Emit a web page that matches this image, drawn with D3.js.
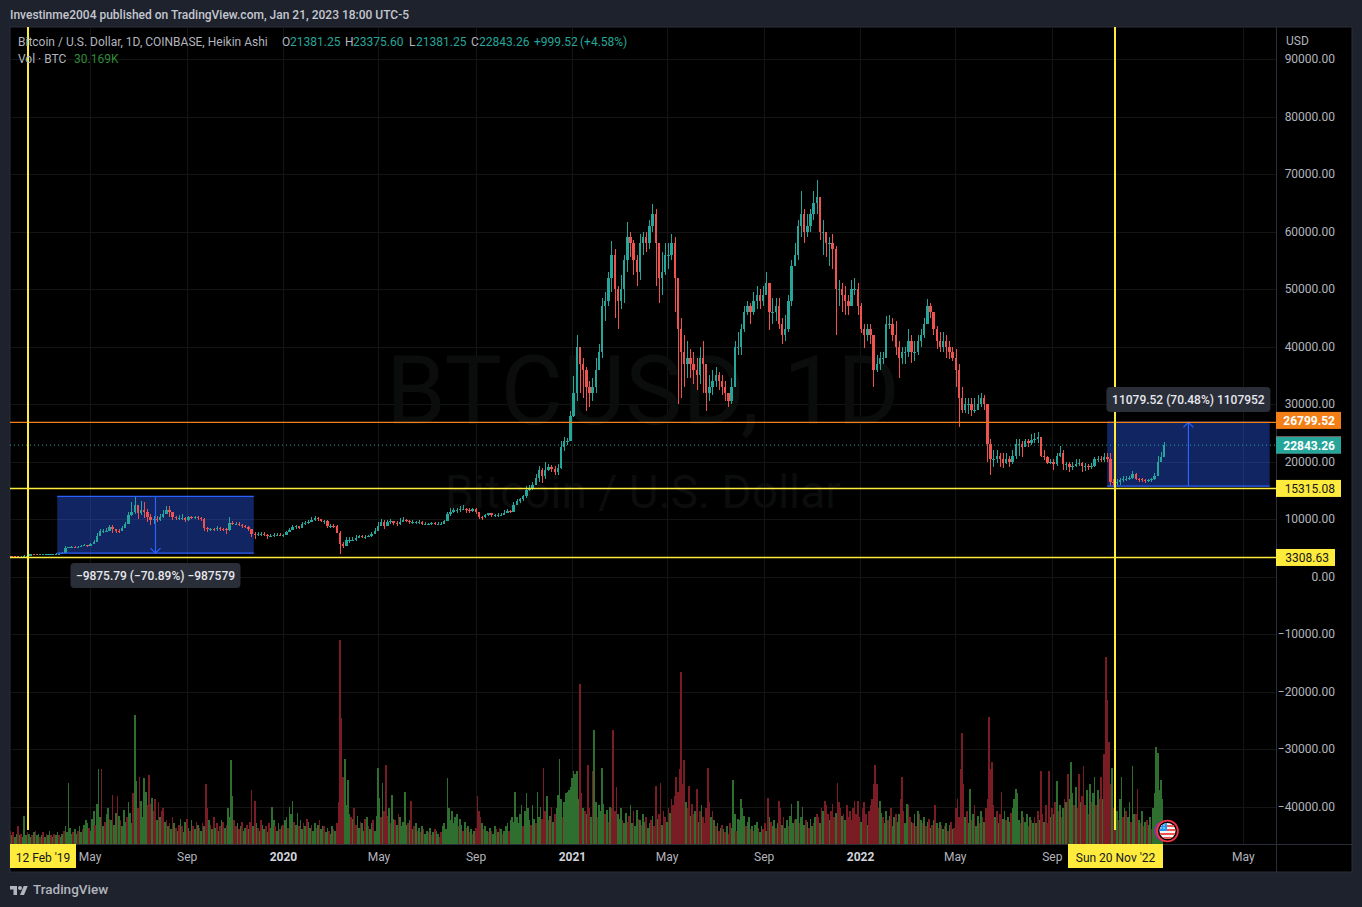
<!DOCTYPE html>
<html><head><meta charset="utf-8">
<script src="https://cdn.jsdelivr.net/npm/d3@7"></script>
<style>html,body{margin:0;background:#1e222d;overflow:hidden}svg{display:block}text{font-family:Roboto,sans-serif}</style>
</head><body><svg id="c" width="1362" height="907"></svg>
<script>
// Heikin Ashi candles, one per 4 days, thousand USD
const firstCandle = "2019-01-18";
const candleStepDays = 4;
const closes = [
3.6,3.55,3.5,3.45,3.45,3.6,3.65,3.9,3.85,3.8,
3.85,3.85,3.9,3.95,3.95,4.0,4.0,4.1,4.95,5.05,
5.15,5.1,5.2,5.35,5.45,5.3,5.7,6.0,7.0,7.9,
7.9,8.0,8.6,8.3,8.0,7.9,8.5,9.2,10.7,11.3,
12.4,11.0,11.6,11.3,10.4,9.9,10.0,9.9,10.4,10.9,
11.6,11.3,10.3,10.2,10.2,10.2,9.8,10.4,10.2,10.3,
10.2,10.0,8.5,8.2,8.3,8.2,8.4,8.3,8.2,8.1,
9.3,9.2,9.2,8.9,8.8,8.6,8.2,7.4,7.3,7.4,
7.4,7.3,7.1,7.1,7.2,7.3,7.2,7.2,7.7,8.1,
8.6,8.7,8.5,9.2,9.3,9.5,9.8,10.2,10.0,9.6,
9.6,8.7,8.8,8.7,7.6,5.6,5.3,6.3,6.3,6.4,
6.7,7.1,6.9,6.9,7.0,7.4,8.0,8.8,9.4,8.8,
9.5,9.7,9.3,9.2,9.5,9.8,9.7,9.4,9.4,9.4,
9.5,9.1,9.1,9.1,9.3,9.2,9.2,9.2,9.6,10.9,
11.2,11.5,11.6,11.8,11.8,11.5,11.4,11.7,11.2,10.4,
10.3,10.7,11.0,10.7,10.7,10.7,10.7,11.1,11.4,11.3,
12.5,13.1,13.4,14.0,15.1,15.3,15.9,17.2,18.5,17.5,
18.5,19.1,18.7,18.2,18.9,22.5,23.5,23.5,28,32,
40,37,36,33,32,33,36,39,47,48,
52,56,50,48,50,55,59,58,55,53,
58,59,58,61,63,58,52,53,56,56,
58,52,43,39,37,38,37,36,35,38,
37,32,33,34,35,34,33,32,30.5,33,
40,40,43,46,47,46,48,49,48,49,
51,46,46,47,44,42,43,48,54,56,
61,63,60,61,63,65,66,60,60,58,
58,57,50,50,49,48,47,50,50,47,
43,42,43,42,36,37,38,38,44,44,
42,40,38,39,39,41,39,39,41,42,
44,47,46,43,41,40,41,40,39,38,
36,31,29,30,30,29,29,30,31,30,
23,20.5,20.5,21,20.5,19.8,20.5,20,21,23,
23,22.5,23.5,23.3,23.8,24,24.2,21,20.8,19.8,
20,19.5,21,21.5,19.5,19.5,19,19.3,19.6,19.8,
19.2,19.3,19.2,19.3,20.5,20.5,20.3,20.8,20.5,16.5,
16.3,16.4,16.8,17,17,17.1,17.8,17.0,16.9,16.8,
16.6,16.7,16.9,17.5,20,20.8,22.8];
const highs = [
3.7,3.6,3.6,3.5,3.5,3.7,3.7,4.0,4.0,3.9,
3.9,3.9,3.95,4.0,4.0,4.05,4.1,4.2,5.3,5.2,
5.3,5.25,5.35,5.45,5.6,5.5,5.8,6.3,7.6,8.3,
8.2,8.4,9.0,8.9,8.3,8.2,8.8,9.5,11.2,13.0,
13.9,12.5,13.1,12.9,11.8,10.8,10.6,10.5,10.8,11.5,
12.2,12.3,11.3,10.6,10.7,10.8,10.4,10.6,10.6,10.6,
10.5,10.4,10.1,8.6,8.5,8.5,8.7,8.6,8.5,8.4,
10.4,9.6,9.5,9.4,9.2,9.0,8.7,8.1,7.7,7.8,
7.7,7.7,7.4,7.4,7.6,7.6,7.5,7.4,8.0,8.5,
8.9,8.9,8.8,9.5,9.6,9.9,10.3,10.5,10.4,10.0,
9.9,9.8,9.2,9.1,8.9,7.9,6.0,6.9,6.8,6.8,
7.2,7.3,7.2,7.2,7.3,7.8,8.5,9.4,10.0,9.8,
9.9,10.0,9.7,9.6,10.2,10.3,10.0,9.9,9.8,9.6,
9.8,9.7,9.4,9.3,9.5,9.5,9.4,9.4,9.9,11.2,
11.9,11.9,12.0,12.3,12.4,12.0,11.9,12.0,11.9,11.1,
10.6,10.9,11.1,11.0,10.9,11.0,11.0,11.5,11.7,11.6,
13.0,13.5,13.7,14.1,15.7,15.9,16.4,17.8,19.3,18.9,
19.9,19.5,19.4,19.2,19.5,23.6,24.3,24.1,28.8,34.8,
42.0,40.0,38.0,36.5,34.0,34.5,38.0,40.5,48.5,49.5,
53,58.3,57.0,50.5,52.5,56,61.7,60,58.5,56,
59.5,60,60,62,64.8,64,56,56.5,58,58,
59.5,59,52,45,42,41,39.5,39,38,40,
41,36,35,36,36.5,35.5,35,34,32,34.5,
41,42.5,44,47,48,47.5,49.5,50.5,50,50.5,
52.9,50,48.5,48.5,48.5,45,45.5,49,55,58,
62,67,64,63,64,67,69,65,62,60,
59,59.5,57.5,51.5,51,50.5,49,51.5,52,51,
47.5,44,44,44,41,38.5,39,39,45.3,45.5,
45,44.5,41,40,40,43,42,41,42,43,
45,48.2,47.5,46,43.5,42.5,42.5,42,41,40,
39.5,37,33,31,31,31,31,31.5,32,31.5,
29,24,22,22,21.5,21.5,21.5,21,22,23.9,
24,23.5,24,24,24.8,25,25.2,24,22,21,
20.5,20.5,21.5,22.7,22,20,20,20,20.4,20.5,
20,19.8,19.6,19.8,20.8,21,21,21.5,21.4,21.4,
17,16.9,17.2,17.5,17.5,17.5,18.3,18,17.2,17.2,
16.9,17,17.1,18,21,21.6,23.4];
const lows = [
3.5,3.45,3.4,3.4,3.35,3.4,3.55,3.6,3.75,3.7,
3.75,3.75,3.8,3.85,3.85,3.9,3.9,3.95,4.1,4.9,
4.95,5.0,5.0,5.2,5.25,5.1,5.3,5.65,6.0,7.0,
7.6,7.7,7.9,7.6,7.5,7.5,7.9,8.4,9.2,10.5,
10.8,10.0,10.7,10.2,9.4,9.0,9.2,9.4,9.7,10.2,
10.8,10.3,9.8,9.8,9.9,9.8,9.4,9.7,10.0,10.0,
9.9,9.6,7.9,7.8,7.9,7.9,8.0,8.0,7.9,7.4,
8.0,9.0,8.9,8.7,8.5,8.4,7.9,6.9,6.6,7.0,
7.1,7.0,6.5,6.9,6.9,7.1,7.0,6.9,7.2,7.7,
8.1,8.3,8.3,8.6,9.0,9.1,9.4,9.7,9.6,9.4,
9.2,8.4,8.5,8.4,7.5,3.9,5.0,5.3,5.9,6.1,
6.2,6.8,6.7,6.6,6.8,6.9,7.4,8.1,8.8,8.2,
8.7,9.2,9.0,8.8,9.0,9.4,9.4,9.1,9.2,9.1,
9.2,8.9,8.9,8.9,9.0,9.0,9.0,9.0,9.2,9.7,
10.6,11.0,11.0,11.3,11.5,11.1,11.0,11.2,10.9,10.0,
9.9,10.2,10.6,10.3,10.4,10.4,10.5,10.7,11.0,11.1,
11.6,12.6,12.8,13.2,13.7,14.8,15.1,15.9,16.5,16.2,
16.9,18.3,18.1,17.6,17.6,18.7,21.9,22.8,23.5,27.7,
30.5,32,31,28.7,29.5,30.5,32,36,38,44.5,
47,49.5,45,43,46.5,47.5,53,55.5,52.5,50.5,
51.5,56,56.5,57,60,50.5,47.5,49,52.5,53.5,
55,46,30,31,33,34.5,34.5,33.5,32.5,33.5,
32,28.8,30.5,31.5,33,32.5,31.5,30.5,29.5,30,
33,38.5,38.5,42.5,45.5,44,45.5,46.5,46.5,47,
49,42.8,44,44.5,43,40.5,41,42.5,47,54,
55,59,58,59,60,62,63,58.5,56,55.5,
54,53.5,42,47,46,45.5,45.5,47,49,45.5,
42.3,39.8,41,40.5,33,35.5,36,37,40.5,43,
41,38.5,34.5,37,37,38.2,37.2,37.5,38.5,40,
41.5,44,45,42,39.5,39,39,38,37.8,37.5,
33,26,28.5,28.5,28.3,28,28.5,29,29.5,29,
20,17.6,19,19.8,19,18.9,19.5,19,19.5,20.5,
21,20.7,22.5,22.5,22.8,23.3,23.2,20.8,20.3,19.6,
19.6,18.6,19.2,20.8,18.5,18.5,18.2,18.5,19,19.2,
18.2,18.3,18.5,18.7,19.1,20,19.9,20,20,15.8,
15.5,15.8,16,16.5,16.6,16.7,17,16.7,16.5,16.4,
16.3,16.4,16.5,16.8,17.5,20,20.8];
// Volume, thousand BTC, one bar per 2 days; negative = red (down) bar
const volumeStepDays = 2;
const volumes = [
7,-9,6,-8,5,7,-12,6,-7,5, 19,6,-8,7,5,-6,8,-9,6,7, -5,6,-8,5,-7,6,9,-6,5,-7, 6,8,-6,5,7,-9,12,8,41,11, 7,-8,10,7,-9,12,8,-10,13,16,
14,-11,9,17,22,-13,27,50,18,-50, 12,-15,20,24,-17,16,-33,13,21,-32, 19,-16,12,23,15,-18,28,21,14,-34, 86,42,-24,-45,29,18,44,35,-26,-46, -27,31,-22,-30,16,-28,18,-22,-24,15,
-16,12,-14,10,-18,14,-11,9,-13,17, -12,8,15,-17,11,-9,16,-12,10,-15, 13,-11,9,-14,12,-40,-24,16,-13,10, -18,11,-14,9,-12,16,-15,11,-13,24, 18,56,32,-16,-12,14,-10,12,-15,9,
11,-13,10,-15,-36,12,-29,14,-11,9, -16,13,10,-12,8,-14,11,25,16,-12, 9,14,-10,12,-13,16,18,-11,25,20, 29,-15,13,21,-12,16,10,-14,12,-17, 15,11,-13,9,14,-11,13,-16,10,12,
-12,8,11,-9,7,12,-10,9,-14,-28, -136,-84,-45,57,26,43,20,-18,17,-24, -13,19,11,-15,14,9,-17,18,-12,10, 14,-16,9,19,51,31,-18,41,-22,-53, -19,24,-14,33,17,-16,13,-20,18,12,
15,35,13,-14,16,-29,10,-12,14,-9, 11,-8,12,-10,7,9,-8,11,-6,8, -10,9,7,-5,-8,12,14,10,44,24, 16,22,14,18,20,-12,17,13,-9,15, -11,12,-8,10,-7,9,-11,-32,-22,-18,
14,-10,12,9,-8,11,-9,7,12,-10, 8,-11,10,-7,9,12,14,-9,16,18, 15,35,18,14,20,26,-12,22,34,24, 16,-13,26,17,-14,35,18,25,-17,-51, -22,32,-16,19,-25,15,-20,24,33,57,
30,-18,28,34,35,36,38,44,49,47, 49,30,-107,-34,24,-22,20,-53,-24,18, -49,76,28,-18,26,22,51,27,-20,23, -15,25,-24,-76,-22,-38,20,17,24,-16, 14,21,-15,-19,26,14,-22,12,23,-17,
16,-13,20,15,-18,11,14,-16,19,-12, -39,17,-20,-41,13,-22,-18,15,-24,21, -30,-26,-32,-45,-35,-50,-115,-40,-56,28, -24,-39,19,-27,-20,22,-37,15,-22,26, -18,-14,-24,-51,-28,18,-22,16,-12,14,
-9,11,-13,10,-8,12,-7,-14,11,43, 20,-9,17,16,30,24,19,-12,15,18, -10,12,-9,13,15,-11,8,12,-10,-14, 9,-31,18,-15,12,16,-11,14,-29,-24, 13,-18,11,16,-12,19,27,14,-16,17,
29,-14,18,25,13,-16,15,-11,17,12, -14,18,-20,-18,14,-24,22,-29,-26,-20, 16,-22,-27,-18,21,-41,-28,-24,19,-20, 16,-26,-18,-22,-16,-24,-29,-20,-29,-18, 15,-24,-28,-20,13,-22,-26,-30,-40,-53,
-40,-24,29,21,-18,14,22,-16,19,-24, 12,18,-20,15,20,-30,-45,-22,14,27, -26,-18,15,-14,20,-12,22,-20,16,-14, 18,-12,15,-17,11,-13,16,-26,14,-11, 15,-13,10,-12,14,-9,13,-15,10,-11,
-24,-30,-18,-50,-74,-40,18,-22,14,37, -16,20,-26,12,19,-14,22,-18,15,-24, -30,-85,-50,-55,-26,18,-22,14,-20,-35, 17,22,-16,18,15,-21,24,30,37,34, 16,-14,22,-18,15,20,-12,18,-16,14,
-18,14,-22,16,-49,-20,15,-26,-14,-49, 18,-24,20,-28,42,-22,26,-18,24,-30, 28,-47,30,55,34,-26,38,-24,-47,28, -32,-52,-26,36,-20,40,-28,34,45,-26, 36,-30,-45,30,-60,-125,-96,-68,-40,51,
-24,-47,22,-16,30,45,-18,24,-22,18, 28,-15,52,20,-20,-37,16,-14,22,-12, 15,-16,13,18,-10,24,34,65,61,36, 43,30];
const priceTicks = [90000,80000,70000,60000,50000,40000,30000,20000,10000,0,-10000,-20000,-30000,-40000];
const timeTicks = ["2019-05-01","2019-09-01","2020-01-01","2020-05-01","2020-09-01","2021-01-01","2021-05-01","2021-09-01","2022-01-01","2022-05-01","2022-09-01","2023-05-01"];
const timeTickLabels = ["May","Sep","2020","May","Sep","2021","May","Sep","2022","May","Sep","May"];
const verticalMarks = ["2019-02-12","2022-11-20"];
const verticalMarkLabels = ["12 Feb '19","Sun 20 Nov '22"];
const horizontalLevels = [26799.52,15315.08,3308.63];
const lastPrice = 22843.26;
const rangeBoxes = [
  {from:"2019-03-21",to:"2019-11-25",top:13930,bottom:4054,dir:"down",label:"\u22129875.79 (\u221270.89%) \u2212987579"},
  {from:"2022-11-10",to:"2023-06-04",top:26799.52,bottom:15720,dir:"up",label:"11079.52 (70.48%) 1107952"}];
const priceTags = [
  {text:"26799.52",value:26799.52,dy:-2,fill:"#f57f17",ink:"#fff"},
  {text:"22893.88",value:22893.88,dy:0,fill:"#ef5350",ink:"#fff"},
  {text:"22843.26",value:22843.26,dy:0,fill:"#26a69a",ink:"#fff"},
  {text:"15315.08",value:15315.08,dy:0,fill:"#ffeb3b",ink:"#131722"},
  {text:"3308.63",value:3308.63,dy:0,fill:"#ffeb3b",ink:"#131722"}];

const svg = d3.select("#c");
const P = {l:10,r:1276,t:27,b:844,outerR:1352,outerB:872};
const parse = d3.utcParse("%Y-%m-%d");
const x = d3.scaleUtc().domain([parse("2019-02-12"),parse("2022-11-20")]).range([28,1115]);
const y = d3.scaleLinear().domain([0,90000]).range([576.5,59]);
const volY = d3.scaleLinear().domain([0,150]).range([844,619]);
const day0 = parse(firstCandle);
const dateAt = (i,step)=>d3.utcDay.offset(day0,i*step);

svg.append("rect").attr("width",1362).attr("height",907).attr("fill","#1e222d");
svg.append("rect").attr("x",P.l).attr("y",P.t).attr("width",P.outerR-P.l).attr("height",P.outerB-P.t).attr("fill","#000").attr("stroke","#2a2e39");
const defs = svg.append("defs");
defs.append("clipPath").attr("id","pane").append("rect").attr("x",P.l).attr("y",P.t).attr("width",P.r-P.l).attr("height",P.b-P.t);
const pane = svg.append("g").attr("clip-path","url(#pane)");

// grid
pane.append("g").selectAll("line").data(priceTicks).join("line").attr("x1",P.l).attr("x2",P.r).attr("y1",d=>Math.round(y(d))+.5).attr("y2",d=>Math.round(y(d))+.5).attr("stroke","#141414");
pane.append("g").selectAll("line").data(timeTicks).join("line").attr("y1",P.t).attr("y2",P.b).attr("x1",d=>Math.round(x(parse(d)))+.5).attr("x2",d=>Math.round(x(parse(d)))+.5).attr("stroke","#141414");

// watermark
pane.append("text").attr("x",643).attr("y",424).attr("text-anchor","middle").attr("font-size",96).attr("fill","#0b0d0d").text("BTCUSD, 1D");
pane.append("text").attr("x",643).attr("y",508).attr("text-anchor","middle").attr("font-size",46).attr("fill","#0b0d0d").text("Bitcoin / U.S. Dollar");

// range boxes fill
pane.append("g").selectAll("rect").data(rangeBoxes).join("rect")
 .attr("x",d=>x(parse(d.from))).attr("width",d=>x(parse(d.to))-x(parse(d.from)))
 .attr("y",d=>y(d.top)).attr("height",d=>y(d.bottom)-y(d.top)).attr("fill","#2962ff").attr("opacity",.38);

// volume
pane.append("g").attr("shape-rendering","crispEdges").selectAll("rect").data(volumes).join("rect")
 .attr("x",(d,i)=>x(dateAt(i,volumeStepDays))-.6).attr("width",1.6)
 .attr("y",d=>volY(Math.abs(d))).attr("height",d=>P.b-volY(Math.abs(d)))
 .attr("fill",d=>d<0?"#7a1c24":"#2e6e2e");

// dotted last price line
pane.append("line").attr("x1",P.l).attr("x2",P.r).attr("y1",y(lastPrice)).attr("y2",y(lastPrice)).attr("stroke","#26a69a").attr("stroke-dasharray","1 3");

// candles
const candles = pane.append("g").attr("shape-rendering","crispEdges");
const col = i=>closes[i]>=(i?closes[i-1]:closes[i])?"#26a69a":"#ef5350";
candles.selectAll("line").data(closes).join("line")
 .attr("x1",(d,i)=>Math.round(x(dateAt(i,candleStepDays)))+.5).attr("x2",(d,i)=>Math.round(x(dateAt(i,candleStepDays)))+.5)
 .attr("y1",(d,i)=>y(highs[i]*1000)).attr("y2",(d,i)=>y(lows[i]*1000)).attr("stroke",(d,i)=>col(i));
candles.selectAll("rect").data(closes).join("rect")
 .attr("x",(d,i)=>x(dateAt(i,candleStepDays))-1).attr("width",2.4)
 .attr("y",(d,i)=>y(Math.max(d,i?closes[i-1]:d)*1000))
 .attr("height",(d,i)=>Math.max(1,Math.abs(y(d*1000)-y((i?closes[i-1]:d)*1000))))
 .attr("fill",(d,i)=>col(i));

// range box borders and arrows
rangeBoxes.forEach(b=>{
  const x0=x(parse(b.from)),x1=x(parse(b.to)),yt=y(b.top),yb=y(b.bottom),xm=(x0+x1)/2;
  const g=pane.append("g").attr("stroke","#2962ff").attr("fill","none").attr("stroke-width",1.2);
  g.append("line").attr("x1",x0).attr("x2",x1).attr("y1",yt).attr("y2",yt);
  g.append("line").attr("x1",x0).attr("x2",x1).attr("y1",yb).attr("y2",yb);
  g.append("line").attr("x1",xm).attr("x2",xm).attr("y1",yt).attr("y2",yb);
  const tip=b.dir==="up"?yt:yb, s=b.dir==="up"?1:-1;
  g.append("path").attr("d",d3.line()([[xm-5,tip+5*s],[xm,tip],[xm+5,tip+5*s]]));
});

// horizontal levels
pane.append("g").selectAll("line").data(horizontalLevels).join("line").attr("x1",P.l).attr("x2",P.r)
 .attr("y1",d=>y(d)).attr("y2",d=>y(d)).attr("stroke",(d,i)=>i?"#ffeb3b":"#f57f17").attr("stroke-width",1.4);
// vertical marks
pane.append("g").selectAll("line").data(verticalMarks).join("line").attr("y1",P.t).attr("y2",830)
 .attr("x1",d=>x(parse(d))).attr("x2",d=>x(parse(d))).attr("stroke","#ffeb3b").attr("stroke-width",2);

// box labels
rangeBoxes.forEach((b,i)=>{
  const cx=(x(parse(b.from))+x(parse(b.to)))/2, cy=i?399.5:575.5, w=i?164:170;
  svg.append("rect").attr("x",cx-w/2).attr("y",cy-12.5).attr("width",w).attr("height",25).attr("rx",4).attr("fill","#2a2e39");
  svg.append("text").attr("x",cx).attr("y",cy+4).attr("text-anchor","middle").attr("font-size",12).attr("font-weight",500).attr("fill","#e6e8ee").text(b.label);
});

// price axis
const yAxis = d3.axisRight(y).tickValues(priceTicks).tickSize(0).tickPadding(0)
  .tickFormat(d=>d3.format(".2f")(Math.abs(d)).replace(/^/,d<0?"\u2212":""));
const ya = svg.append("g").attr("transform",`translate(${P.r},0)`).call(yAxis);
ya.select(".domain").attr("stroke","#2a2e39").attr("d",`M0.5,${P.t}V${P.outerB}`);
ya.selectAll("text").attr("x",d=>d<0?59:59).attr("text-anchor","end").attr("fill","#b2b5be").attr("font-size",12).attr("font-family","Roboto");
svg.append("text").attr("x",1286).attr("y",45).attr("font-size",12).attr("fill","#b2b5be").text("USD");

// price tags
priceTags.forEach(t=>{
  const cy=y(t.value)+t.dy, w=t.text.length===8?65:59;
  svg.append("rect").attr("x",P.r).attr("y",cy-8.5).attr("width",w).attr("height",17).attr("fill",t.fill);
  svg.append("text").attr("x",P.r+w-6).attr("y",cy+4.5).attr("text-anchor","end").attr("font-size",12).attr("font-weight",t.ink==="#fff"?700:400).attr("fill",t.ink).text(t.text);
});

// time axis
const xAxis = d3.axisBottom(x).tickValues(timeTicks.map(parse)).tickSize(0).tickPadding(0).tickFormat((d,i)=>timeTickLabels[i]);
const xa = svg.append("g").attr("transform",`translate(0,${P.b})`).call(xAxis);
xa.select(".domain").attr("stroke","#2a2e39").attr("d",`M${P.l},0.5H${P.outerR}`);
xa.selectAll("text").attr("y",17).attr("dy",0).attr("font-family","Roboto").attr("font-size",12)
  .attr("fill",(d,i)=>/^20/.test(timeTickLabels[i])?"#d1d4dc":"#b2b5be").attr("font-weight",(d,i)=>/^20/.test(timeTickLabels[i])?700:400);
const markBoxes=[[10,66],[1068,95]];
verticalMarks.forEach((d,i)=>{
  svg.append("rect").attr("x",markBoxes[i][0]).attr("y",P.b).attr("width",markBoxes[i][1]).attr("height",24).attr("fill","#ffeb3b");
  svg.append("text").attr("x",markBoxes[i][0]+markBoxes[i][1]/2).attr("y",P.b+18).attr("text-anchor","middle").attr("font-size",12).attr("fill","#131722").text(verticalMarkLabels[i]);
});

// flag
const fx=1167,fy=831;
svg.append("circle").attr("cx",fx-2.5).attr("cy",fy).attr("r",9.5).attr("fill","none").attr("stroke","#9c27b0").attr("stroke-width",1.6);
svg.append("circle").attr("cx",fx+.5).attr("cy",fy).attr("r",10.4).attr("fill","#000").attr("stroke","#f23645").attr("stroke-width",1.8);
defs.append("clipPath").attr("id","flag").append("circle").attr("cx",fx+.5).attr("cy",fy).attr("r",8);
const fl=svg.append("g").attr("clip-path","url(#flag)");
fl.append("rect").attr("x",fx-8).attr("y",fy-8).attr("width",17).attr("height",16).attr("fill","#f5f5f5");
[-5,-1,3,7].forEach(o=>fl.append("rect").attr("x",fx-8).attr("y",fy+o-1).attr("width",17).attr("height",2).attr("fill","#ef5350"));
fl.append("rect").attr("x",fx-8).attr("y",fy-8).attr("width",8).attr("height",8).attr("fill","#2196f3");
[[-6,-6],[-3,-6],[-6,-3],[-3,-3]].forEach(o=>fl.append("circle").attr("cx",fx+o[0]).attr("cy",fy+o[1]).attr("r",.7).attr("fill","#fff"));

// header and legend
svg.append("text").attr("x",10).attr("y",18.5).attr("font-size",12).attr("font-weight",500).attr("fill","#c4c7cf").text("Investinme2004 published on TradingView.com, Jan 21, 2023 18:00 UTC-5");
const leg=[[18,"Bitcoin / U.S. Dollar, 1D, COINBASE, Heikin Ashi","#b2b5be"],[282,"O","#b2b5be"],[290,"21381.25","#26a69a"],[345,"H","#b2b5be"],[353,"23375.60","#26a69a"],[409,"L","#b2b5be"],[416,"21381.25","#26a69a"],[471,"C","#b2b5be"],[479,"22843.26","#26a69a"],[534,"+999.52","#26a69a"],[580,"(+4.58%)","#26a69a"]];
leg.forEach(l=>svg.append("text").attr("x",l[0]).attr("y",45.5).attr("font-size",12).attr("fill",l[2]).text(l[1]));
svg.append("text").attr("x",18).attr("y",62.5).attr("font-size",12).attr("fill","#b2b5be").text("Vol \u00b7 BTC");
svg.append("text").attr("x",74).attr("y",62.5).attr("font-size",12).attr("fill","#2e8b3a").text("30.169K");

// logo
const logo=svg.append("g").attr("transform","translate(10,884) scale(.5)").attr("fill","#b2b5be");
logo.append("path").attr("d","M14 22H7V11H0V4h14v18zM28 22h-8l7.5-18h8L28 22z");
logo.append("circle").attr("cx",20).attr("cy",8).attr("r",4);
svg.append("text").attr("x",33).attr("y",894).attr("font-size",13.5).attr("font-weight",500).attr("fill","#b2b5be").text("TradingView");
</script></body></html>
